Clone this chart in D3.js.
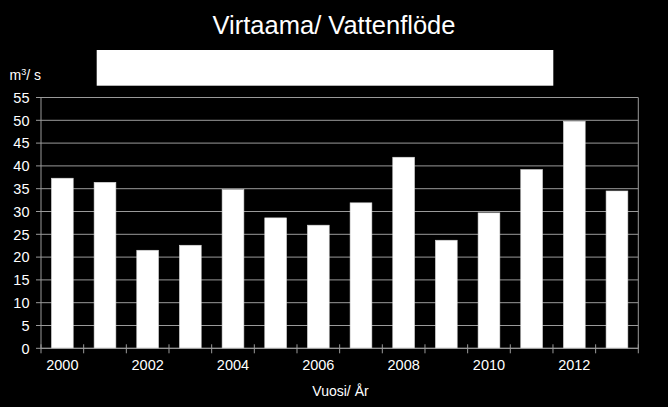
<!DOCTYPE html>
<html>
<head>
<meta charset="utf-8">
<script src="https://cdn.jsdelivr.net/npm/d3@7"></script>
<style>
  html, body { margin: 0; padding: 0; background: #000; }
  svg { display: block; font-family: "Liberation Sans", Arial, sans-serif; }
</style>
</head>
<body>
<svg id="chart" width="668" height="407"></svg>
<script>
// vuodet ja virtaamat (m3/s)
var years = [2000, 2001, 2002, 2003, 2004, 2005, 2006, 2007, 2008, 2009, 2010, 2011, 2012, 2013];
var flows = [37.3, 36.4, 21.5, 22.6, 34.8, 28.6, 27.0, 31.9, 41.9, 23.7, 29.7, 39.2, 49.8, 34.5];
var yTicks = [0, 5, 10, 15, 20, 25, 30, 35, 40, 45, 50, 55];
var xLabels = [2000, 2002, 2004, 2006, 2008, 2010, 2012];

var svg = d3.select("#chart");
var plotLeft = 41, plotRight = 638.3, plotTop = 97.5, plotBottom = 348.3;
var gridColor = "#9a9a9a";

var x = d3.scaleBand()
    .domain(years)
    .range([plotLeft, plotRight])
    .paddingInner(0.49)
    .paddingOuter(0.245);

var y = d3.scaleLinear()
    .domain([0, 55])
    .range([plotBottom, plotTop]);

// otsikko
svg.append("text")
    .attr("x", 334)
    .attr("y", 33.5)
    .attr("text-anchor", "middle")
    .attr("fill", "#fff")
    .attr("font-size", 25.5)
    .text("Virtaama/ Vattenflöde");

// valkoinen laatikko
svg.append("rect")
    .attr("x", 96.7)
    .attr("y", 50)
    .attr("width", 456.6)
    .attr("height", 35.7)
    .attr("fill", "#fff");

// vaakaviivat
svg.selectAll(".grid")
    .data(yTicks)
    .enter().append("line")
    .attr("x1", plotLeft - 5)
    .attr("x2", plotRight)
    .attr("y1", d => y(d))
    .attr("y2", d => y(d))
    .attr("stroke", gridColor)
    .attr("stroke-width", 1);

// reunat
svg.append("line")
    .attr("x1", plotLeft).attr("x2", plotLeft)
    .attr("y1", plotTop).attr("y2", plotBottom)
    .attr("stroke", gridColor);
svg.append("line")
    .attr("x1", plotRight).attr("x2", plotRight)
    .attr("y1", plotTop).attr("y2", plotBottom)
    .attr("stroke", gridColor);

// y-akselin luvut
svg.selectAll(".ylab")
    .data(yTicks)
    .enter().append("text")
    .attr("x", 29.5)
    .attr("y", d => y(d) + 5.2)
    .attr("text-anchor", "end")
    .attr("fill", "#fff")
    .attr("font-size", 14.5)
    .text(d => d);

svg.append("text")
    .attr("x", 9.5)
    .attr("y", 80)
    .attr("fill", "#fff")
    .attr("font-size", 14)
    .html("m<tspan dy='-5' font-size='9'>3</tspan><tspan dy='5'>/ s</tspan>");

// pylväät
svg.selectAll(".bar")
    .data(flows)
    .enter().append("rect")
    .attr("x", (d, i) => x(years[i]))
    .attr("y", d => y(d))
    .attr("width", x.bandwidth())
    .attr("height", d => plotBottom - y(d))
    .attr("fill", "#fff")
    .attr("stroke", "#d8d8d8")
    .attr("stroke-width", 0.6);

// x-akselin merkit
var gap = (x.step() - x.bandwidth()) / 2;
var bounds = years.map(d => x(d) - gap);
bounds.push(plotRight);
svg.selectAll(".xtick")
    .data(bounds)
    .enter().append("line")
    .attr("x1", d => d).attr("x2", d => d)
    .attr("y1", plotBottom - 4).attr("y2", plotBottom + 5)
    .attr("stroke", gridColor);

svg.append("line")
    .attr("x1", plotLeft).attr("x2", plotRight)
    .attr("y1", plotBottom).attr("y2", plotBottom)
    .attr("stroke", gridColor);

svg.selectAll(".xlab")
    .data(xLabels)
    .enter().append("text")
    .attr("x", d => x(d) + x.bandwidth() / 2)
    .attr("y", 369.5)
    .attr("text-anchor", "middle")
    .attr("fill", "#fff")
    .attr("font-size", 14.5)
    .text(d => d);

svg.append("text")
    .attr("x", 340.5)
    .attr("y", 396)
    .attr("text-anchor", "middle")
    .attr("fill", "#fff")
    .attr("font-size", 14)
    .text("Vuosi/ År");
</script>
</body>
</html>
